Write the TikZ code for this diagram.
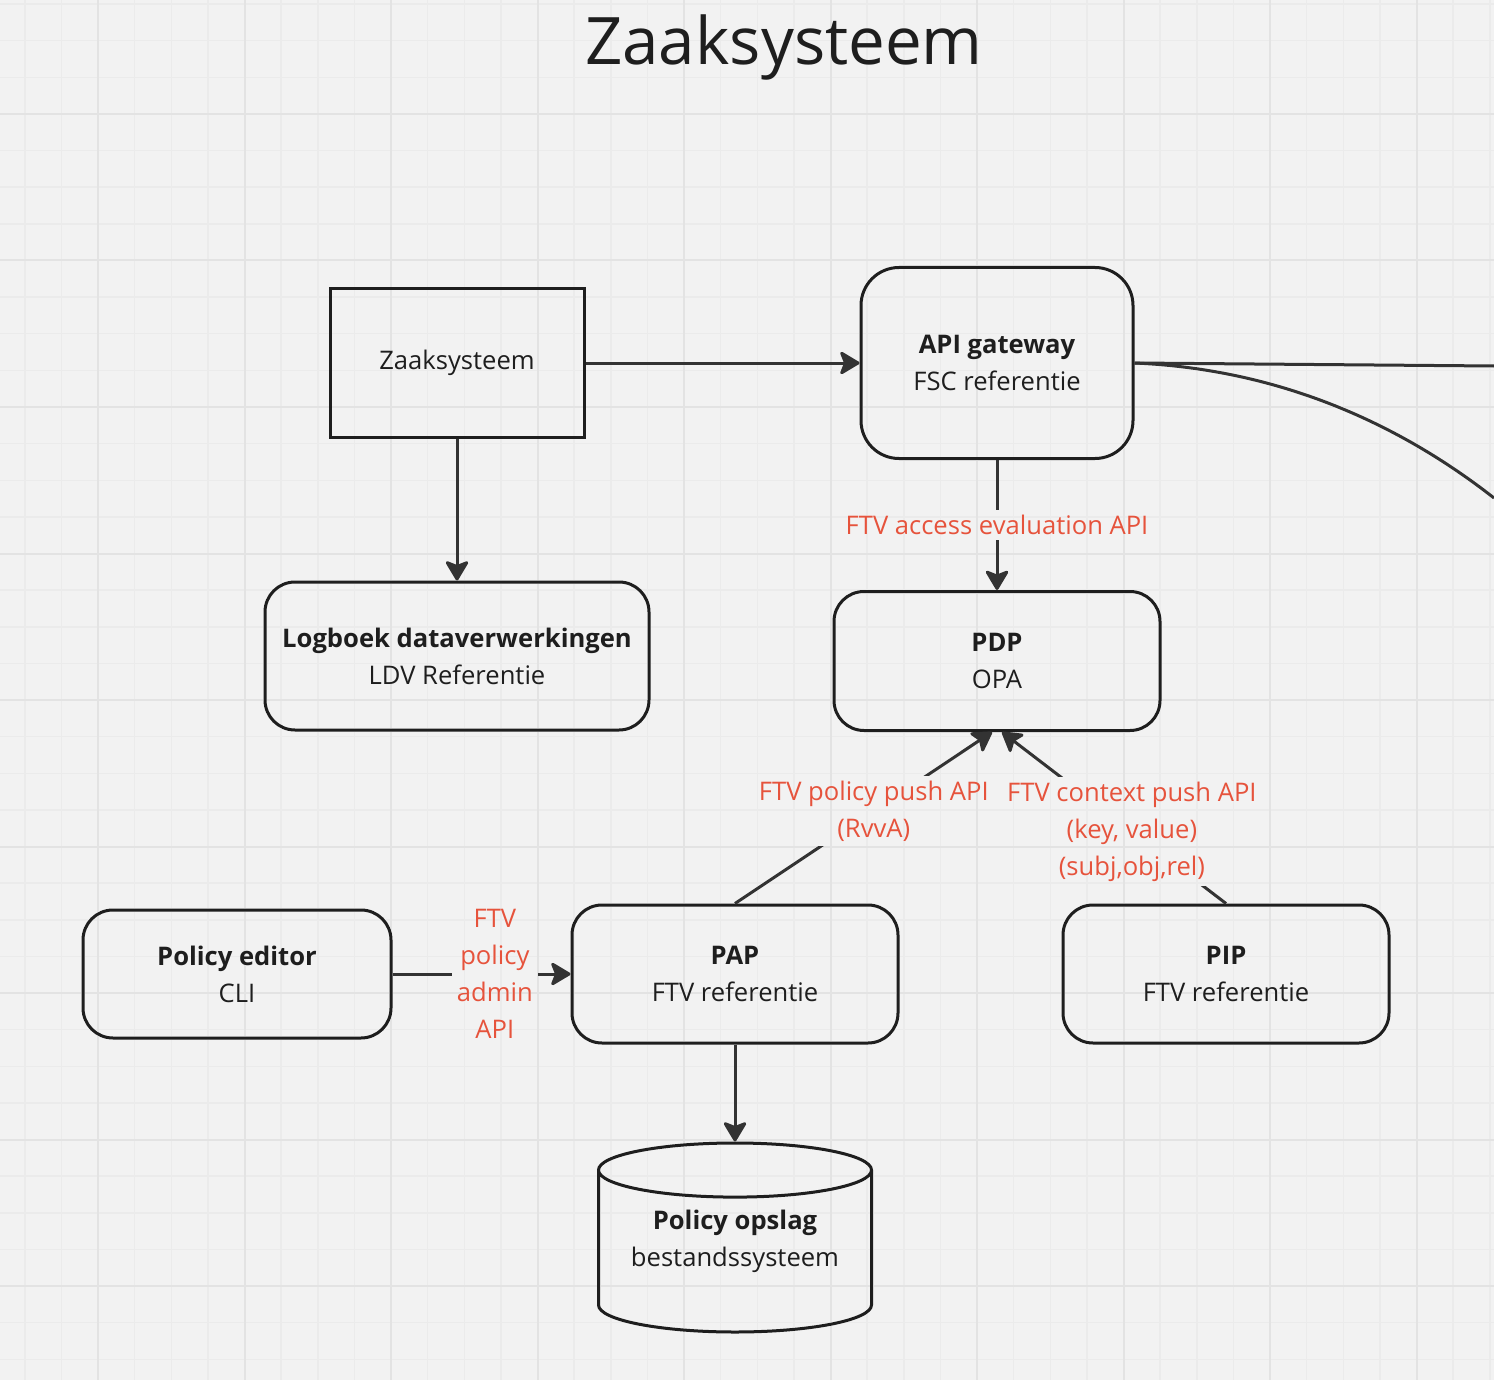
\documentclass[tikz,border=0pt]{standalone}
\usepackage{fontspec}
\setmainfont{Open Sans}
\usepackage{xcolor}
\usetikzlibrary{arrows.meta,positioning,shapes.geometric}
\definecolor{board}{HTML}{F2F2F2}
\definecolor{minorgrid}{HTML}{EBEBEB}
\definecolor{majorgrid}{HTML}{E3E3E3}
\definecolor{ink}{HTML}{1E1E1E}
\definecolor{wire}{HTML}{333333}
\definecolor{ftvred}{HTML}{E6533C}
\newcommand\boxfont{\fontsize{25.6}{37}\selectfont}
\tikzset{%
  arrow/.style={line width=3pt,draw=wire,-{Stealth[length=22pt,width=26pt,inset=5pt,round]}},
  link/.style={line width=3pt,draw=wire},
  block/.style={draw=ink,line width=3pt,rounded corners=30pt,align=center,text=ink,inner sep=0pt,font=\boxfont},
  plainblock/.style={block,sharp corners},
  store/.style={shape=cylinder,shape border rotate=90,aspect=0.26,draw=ink,line width=3pt,align=center,text=ink,inner sep=0pt,font=\boxfont},
  api/.style={fill=board,text=ftvred,align=center,inner sep=5pt,font=\boxfont},
}

\begin{document}
\begin{tikzpicture}[x=1pt,y=-1pt]
  \useasboundingbox (0,0) rectangle (1494,1380);
  \fill[board] (0,0) rectangle (1494,1380);

  \node[text=ink,font=\fontsize{65.5}{80}\selectfont] (title) at (784,47) {Zaaksysteem};

  \node[plainblock,minimum width=254pt,minimum height=148pt] (zaak) at (457,363) {Zaaksysteem};
  \node[block,minimum width=272pt,minimum height=191pt,rounded corners=38pt,right=274pt of zaak] (gateway) {\textbf{API gateway}\\FSC referentie};
  \node[block,minimum width=384pt,minimum height=148pt,below=142pt of zaak] (logboek) {\textbf{Logboek dataverwerkingen}\\LDV Referentie};
  \node[block,minimum width=326pt,minimum height=139pt,below=130pt of gateway] (pdp) {\textbf{PDP}\\OPA};
  \node[block,minimum width=326pt,minimum height=138pt] (pap) at (735,974) {\textbf{PAP}\\FTV referentie};
  \node[block,minimum width=308pt,minimum height=128pt,left=178pt of pap] (editor) {\textbf{Policy editor}\\CLI};
  \node[block,minimum width=326pt,minimum height=138pt,right=162pt of pap] (pip) {\textbf{PIP}\\FTV referentie};
  \node[store,minimum width=273pt,minimum height=189pt,below=97pt of pap] (opslag)
    {\raisebox{11pt}[\height][\depth]{\begin{tabular}{@{}c@{}}\textbf{Policy opslag}\\bestandssysteem\end{tabular}}};

  \coordinate (outa) at (1494,366);
  \coordinate (outb) at (1494,498);

  \draw[arrow] (zaak) -- (gateway);
  \draw[arrow] (zaak) -- (logboek);
  \draw[arrow] (gateway) -- node[api] {FTV access evaluation API} (pdp);
  \draw[arrow] (pap.north) -- node[api,pos=0.54] {FTV policy push API\\(RvvA)} (pdp.266);
  \draw[arrow] (pip.north) -- node[api,pos=0.42] {FTV context push API\\(key, value)\\(subj,obj,rel)} (pdp.274);
  \draw[arrow] (editor) -- node[api,pos=0.575] {FTV\\policy\\admin\\API} (pap);
  \draw[arrow] (pap) -- (opslag);
  \draw[link] (gateway.east) -- (outa);
  \draw[link] (gateway.east) .. controls (1300,370) and (1420,440) .. (outb);

  % grid, laid over with darken so it stays behind the ink
  \begin{scope}[blend mode=darken]
    \foreach \i in {0,...,40}
      \draw[minorgrid,line width=1.5pt] ({24.75+36.625*\i},0) -- ({24.75+36.625*\i},1380);
    \foreach \i in {0,...,37}
      \draw[minorgrid,line width=1.5pt] (0,{4.125+36.625*\i}) -- (1494,{4.125+36.625*\i});
    \foreach \i in {0,...,9}
      \draw[majorgrid,line width=2pt] ({98+146.5*\i},0) -- ({98+146.5*\i},1380);
    \foreach \i in {0,...,8}
      \draw[majorgrid,line width=2pt] (0,{114+146.5*\i}) -- (1494,{114+146.5*\i});
  \end{scope}
\end{tikzpicture}
\end{document}
